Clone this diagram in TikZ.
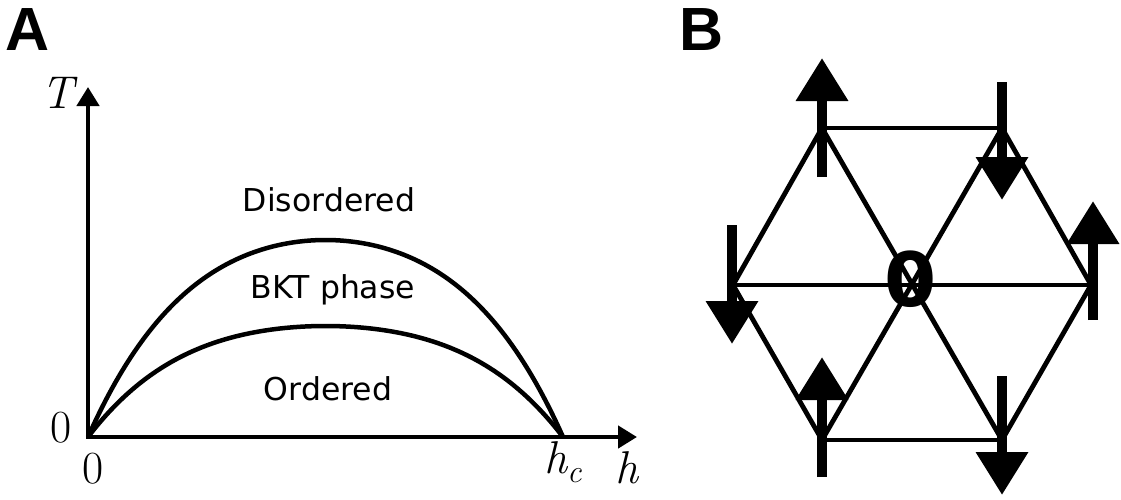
\documentclass[tikz,border=0pt]{standalone}
\usepackage{fontspec}
\newfontfamily\dejavu{DejaVu Sans}
\newfontfamily\libsans{Liberation Sans}
\usetikzlibrary{arrows.meta}
\tikzset{
  axisline/.style={line width=4.5pt, line join=miter,
    {Triangle[width=22pt,length=19pt]}-{Triangle[width=22pt,length=19pt]}},
  curveline/.style={line width=4.5pt},
  phaselbl/.style={font=\dejavu\fontsize{31.5}{36}\selectfont, inner sep=0pt, anchor=base},
  mathlbl/.style={font=\fontsize{46}{52}\selectfont, inner sep=0pt, anchor=base},
  panellbl/.style={font=\libsans\bfseries\fontsize{61}{70}\selectfont, inner sep=0pt, anchor=base west},
  slantedge/.style={line width=4.8pt, line cap=round},
  flatedge/.style={line width=4pt},
  spin/.style={line width=10pt, -{Triangle[width=50pt,length=43pt]}},
  centerlbl/.style={font=\dejavu\bfseries\fontsize{75}{80}\selectfont, inner sep=0pt, anchor=base}
}
\begin{document}
\begin{tikzpicture}[x=1pt,y=-1pt]
\useasboundingbox (0,0) rectangle (1121,499);
% ---------- Panel A ----------
\node[panellbl] (labA) at (5,50) {A};
\coordinate (O) at (88,437);
\coordinate (Ttip) at (88,87);
\coordinate (htip) at (637,437);
\draw[axisline] (Ttip) -- (O) -- (htip);
\draw[curveline] plot[domain=-1:1, samples=161, smooth]
  ({325.5+237.5*\x}, {437-197*(1-0.65*\x*\x-0.35*\x*\x*\x*\x)});
\draw[curveline] plot[domain=-1:1, samples=161, smooth]
  ({325.5+237.5*\x}, {437-111*(1-0.6*\x*\x-0.4*\x*\x*\x*\x)});
\node[phaselbl] (dis) at (329,211) {Disordered};
\node[phaselbl] (bkt) at (333,298) {BKT phase};
\node[phaselbl] (ord) at (328,400) {Ordered};
\node[mathlbl] (Tl) at (58,108) {\itshape T};
\node[mathlbl] (z1) at (61,442) {0};
\node[mathlbl] (z2) at (93,483) {0};
\node[mathlbl, anchor=base west] (hc) at (544,473) {\itshape h\raisebox{-0.2em}{\fontsize{32}{32}\selectfont c}};
\node[mathlbl] (hl) at (627,483) {\itshape h};
% ---------- Panel B ----------
\node[panellbl] (labB) at (679,50) {B};
\coordinate (TL) at (822,128);
\coordinate (TR) at (1002,128);
\coordinate (R) at (1091,285);
\coordinate (L) at (733,285);
\coordinate (BL) at (822,440);
\coordinate (BR) at (1002,440);
\coordinate (C) at (912,285);
\draw[flatedge] (TL) -- (TR);
\draw[flatedge] (BL) -- (BR);
\draw[flatedge] (L) -- (R);
\draw[slantedge] (L) -- (TL) -- (BR) -- (R) -- (TR) -- (BL) -- cycle;
\node[centerlbl] (zero) at (911,306) {0};
% spins
\coordinate (s1a) at (822,177); \coordinate (s1b) at (822,58);
\coordinate (s2a) at (1002,82); \coordinate (s2b) at (1002,200);
\coordinate (s3a) at (1093,320); \coordinate (s3b) at (1093,201);
\coordinate (s4a) at (732,225); \coordinate (s4b) at (732,344);
\coordinate (s5a) at (822,477); \coordinate (s5b) at (822,357);
\coordinate (s6a) at (1002,376); \coordinate (s6b) at (1002,495);
\draw[spin] (s1a) -- (s1b);
\draw[spin] (s2a) -- (s2b);
\draw[spin] (s3a) -- (s3b);
\draw[spin] (s4a) -- (s4b);
\draw[spin] (s5a) -- (s5b);
\draw[spin] (s6a) -- (s6b);
\end{tikzpicture}
\end{document}
